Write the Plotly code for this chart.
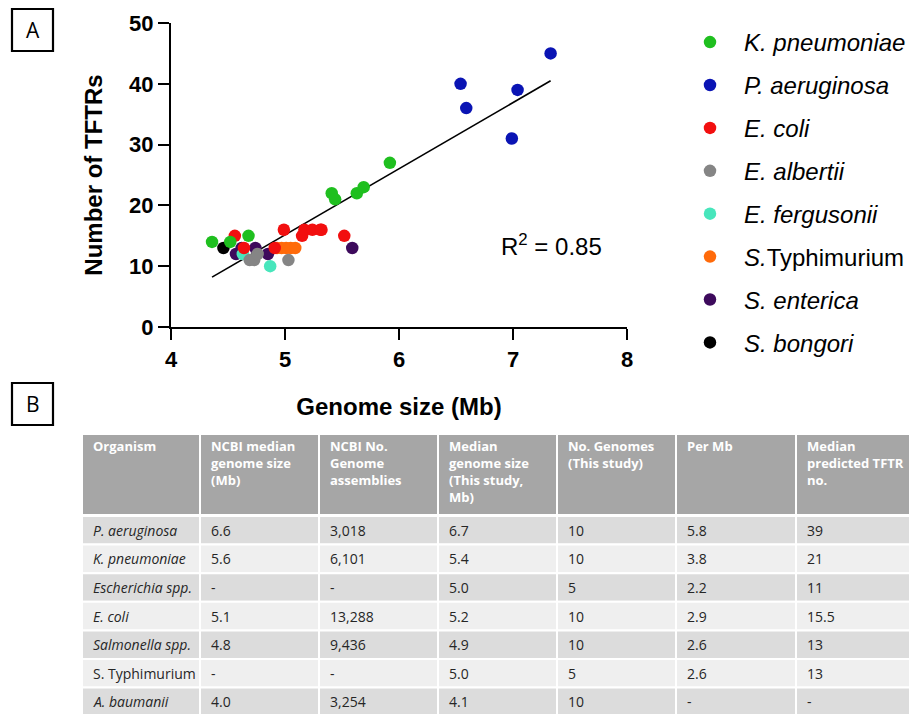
import plotly.graph_objects as go

# ---------------- Panel A data (genome size Mb, number of TFTRs) ----------------
kp_x = [4.36, 4.52, 4.68, 5.41, 5.44, 5.63, 5.69, 5.92]
kp_y = [14, 14, 15, 22, 21, 22, 23, 27]
pa_x = [6.54, 6.59, 6.99, 7.04, 7.33]
pa_y = [40, 36, 31, 39, 45]
ec_x = [4.56, 4.64, 4.91, 4.99, 5.15, 5.17, 5.24, 5.31, 5.32, 5.52]
ec_y = [15, 13, 13, 16, 15, 16, 16, 16, 16, 15]
ea_x = [4.69, 4.73, 4.76, 5.03]
ea_y = [11, 11, 12, 11]
ef_x = [4.63, 4.87]
ef_y = [12, 10]
st_x = [4.93, 4.97, 5.01, 5.05, 5.09]
st_y = [13, 13, 13, 13, 13]
se_x = [4.57, 4.62, 4.74, 4.85, 5.59]
se_y = [12, 13, 13, 12, 13]
sb_x = [4.46]
sb_y = [13]

fit_x = [4.36, 7.33]
fit_y = [8.2, 40.5]
r_squared = "0.85"

x_ticks = [4, 5, 6, 7, 8]
y_ticks = [0, 10, 20, 30, 40, 50]

# ---------------- Panel B data (table) ----------------
tbl_header = ["Organism", "NCBI median<br>genome size<br>(Mb)", "NCBI No.<br>Genome<br>assemblies",
              "Median<br>genome size<br>(This study,<br>Mb)", "No. Genomes<br>(This study)",
              "Per Mb", "Median<br>predicted TFTR<br>no."]
tbl_organism = ["<i>P. aeruginosa</i>", "<i>K. pneumoniae</i>", "<i>Escherichia spp.</i>", "<i>E. coli</i>",
                "<i>Salmonella spp.</i>", "S. Typhimurium", "<i>A. baumanii</i>"]
tbl_ncbi_size = ["6.6", "5.6", "-", "5.1", "4.8", "-", "4.0"]
tbl_ncbi_no = ["3,018", "6,101", "-", "13,288", "9,436", "-", "3,254"]
tbl_median_size = ["6.7", "5.4", "5.0", "5.2", "4.9", "5.0", "4.1"]
tbl_no_genomes = ["10", "10", "5", "10", "10", "5", "10"]
tbl_per_mb = ["5.8", "3.8", "2.2", "2.9", "2.6", "2.6", "-"]
tbl_median_tftr = ["39", "21", "11", "15.5", "13", "13", "-"]

# page body has an 8px default margin: size the figure so it fills the window exactly
OFF = 8
FW, FH = 917 - OFF, 714 - OFF
AR = "Arial, Liberation Sans, sans-serif"
TF = "Open Sans, sans-serif"


def px(s):
    return (s - OFF) / FW


def py(s):
    return 1 - (s - OFF) / FH


fig = go.Figure()

# regression line
fig.add_trace(go.Scatter(x=fit_x, y=fit_y, mode="lines", line=dict(color="black", width=1.6),
                         showlegend=False, hoverinfo="skip"))

series = [
    # (name, x, y, color, legendrank)  -- listed in drawing order
    ("<i>S. enterica</i>", se_x, se_y, "#3d0a5c", 7),
    ("<i>E. fergusonii</i>", ef_x, ef_y, "#48e6bc", 5),
    ("<i>S. bongori</i>", sb_x, sb_y, "#000000", 8),
    ("<i>S.</i>Typhimurium", st_x, st_y, "#ff6a0a", 6),
    ("<i>E. coli</i>", ec_x, ec_y, "#f20f0f", 3),
    ("<i>E. albertii</i>", ea_x, ea_y, "#858585", 4),
    ("<i>K. pneumoniae</i>", kp_x, kp_y, "#1fbf1f", 1),
    ("<i>P. aeruginosa</i>", pa_x, pa_y, "#0a14b4", 2),
]
for name, xs, ys, col, rk in series:
    fig.add_trace(go.Scatter(x=xs, y=ys, mode="markers", name=name, legendrank=rk,
                             legendgroup=name,
                             marker=dict(color=col, size=12.5, line=dict(width=0))))

# ---------------- table drawn as paper shapes + text ----------------
col_edges = [82, 200, 319, 438, 557, 676, 796, 914]
head_top, head_bot = 434, 515
row_top0, row_h = 516, 28.6
cols = [tbl_organism, tbl_ncbi_size, tbl_ncbi_no, tbl_median_size, tbl_no_genomes, tbl_per_mb, tbl_median_tftr]

for j in range(len(cols)):
    x0, x1 = col_edges[j], col_edges[j + 1]
    fig.add_shape(type="rect", xref="paper", yref="paper", x0=px(x0), x1=px(x1), y0=py(head_bot), y1=py(head_top),
                  fillcolor="#a6a6a6", line=dict(color="white", width=2), layer="below")
    fig.add_annotation(x=px(x0 + 8.5), y=py(head_top + 0.5), xref="paper", yref="paper",
                       text=f"<b>{tbl_header[j]}</b>",
                       showarrow=False, xanchor="left", yanchor="top", align="left",
                       font=dict(family=TF, size=13, color="white"))
    for i, val in enumerate(cols[j]):
        y0 = row_top0 + i * row_h
        y1 = y0 + row_h
        fill = "#dcdcdc" if i % 2 == 0 else "#efefef"
        fig.add_shape(type="rect", xref="paper", yref="paper", x0=px(x0), x1=px(x1), y0=py(y1), y1=py(y0),
                      fillcolor=fill, line=dict(color="white", width=2), layer="below")
        fig.add_annotation(x=px(x0 + 8.5), y=py((y0 + y1) / 2), xref="paper", yref="paper", text=val,
                           showarrow=False, xanchor="left", yanchor="middle", align="left",
                           font=dict(family=TF, size=14, color="#262626"))

fig.update_layout(
    width=FW, height=FH, margin=dict(l=0, r=0, t=0, b=0, autoexpand=False),
    plot_bgcolor="rgba(0,0,0,0)", paper_bgcolor="white",
    font=dict(family=AR, color="black"),
    showlegend=True,
    legend=dict(x=px(676), y=py(20), xanchor="left", yanchor="top", traceorder="grouped",
                tracegroupgap=8.7, font=dict(family=AR, size=24, color="black"),
                bgcolor="rgba(0,0,0,0)", itemwidth=58),
    xaxis=dict(domain=[px(171), px(627)], range=[4, 8], tickvals=x_ticks, showgrid=False, zeroline=False,
               automargin=False,
               showline=True, linecolor="black", linewidth=2.2, ticks="outside", ticklen=11, tickwidth=2.2,
               tickcolor="black", tickfont=dict(family=AR, size=22, color="black", weight="bold"),
               title=dict(text="<b>Genome size (Mb)</b>", font=dict(family=AR, size=24, color="black"),
                          standoff=28),
               anchor="y"),
    yaxis=dict(domain=[py(327), py(23)], range=[0, 50], tickvals=y_ticks, showgrid=False,
               automargin=False,
               zeroline=False, showline=True, linecolor="black", linewidth=2.2, ticks="outside", ticklen=11,
               tickwidth=2.2, tickcolor="black", tickfont=dict(family=AR, size=22, color="black", weight="bold"),
               title=dict(text="<b>Number of TFTRs</b>", font=dict(family=AR, size=24, color="black"),
                          standoff=20),
               anchor="x"),
)

fig.add_annotation(x=6.88, y=13.5, xref="x", yref="y", text="R<sup>2</sup> = " + r_squared,
                   showarrow=False, font=dict(family=AR, size=24, color="black"), xanchor="left", yanchor="middle")

# panel labels
for lab, y0, y1 in [("A", 9, 51), ("B", 383, 425)]:
    fig.add_shape(type="rect", xref="paper", yref="paper", x0=px(12), x1=px(53),
                  y0=py(y1), y1=py(y0), line=dict(color="black", width=2.2), fillcolor="white")
    fig.add_annotation(x=px(32.5), y=py((y0 + y1) / 2), xref="paper", yref="paper", text=lab,
                       showarrow=False, font=dict(family=TF, size=21, color="black"),
                       xanchor="center", yanchor="middle")

fig.write_html("out.html")
